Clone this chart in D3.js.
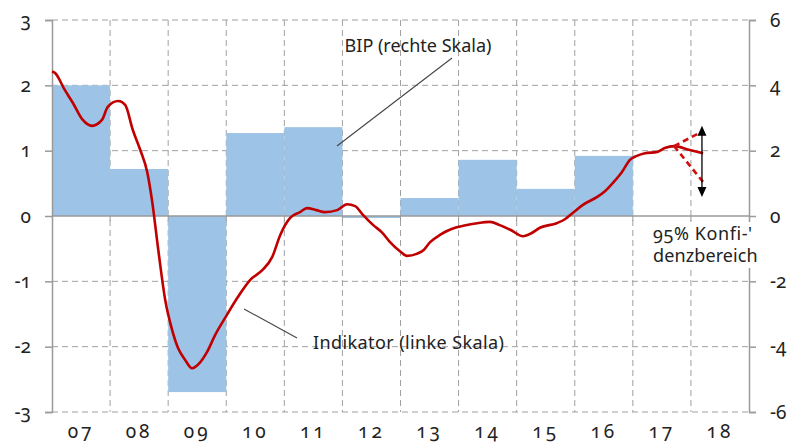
<!DOCTYPE html>
<html>
  <head>
    <meta charset="utf-8">
    <style type="text/css">
      body { margin: 0; background: #fff; }
      text { font-family: "Noto Sans", sans-serif; font-feature-settings: "onum"; fill: #222; }
    </style>
    <script src="https://d3js.org/d3.v7.min.js"></script>
  </head>
  <body>
    <svg width="792" height="446"></svg>
    <script>
      // GDP bars (right scale), one per calendar year
      const barYears = [2007, 2008, 2009, 2010, 2011, 2012, 2013, 2014, 2015, 2016];
      const barValues = [4.0, 1.44, -5.39, 2.54, 2.72, -0.06, 0.55, 1.72, 0.83, 1.84];

      // indicator (left scale): [decimal year, value]
      const indicator = [
        [2007.00, 2.21], [2007.05, 2.19], [2007.22, 1.93], [2007.36, 1.73], [2007.53, 1.47],
        [2007.69, 1.38], [2007.86, 1.47], [2007.96, 1.67], [2008.14, 1.76], [2008.26, 1.70],
        [2008.39, 1.32], [2008.52, 1.01], [2008.64, 0.67], [2008.72, 0.25], [2008.83, -0.52],
        [2008.95, -1.29], [2009.07, -1.75], [2009.17, -2.02], [2009.29, -2.20], [2009.41, -2.33],
        [2009.55, -2.24], [2009.67, -2.08], [2009.81, -1.82], [2009.98, -1.56], [2010.20, -1.24],
        [2010.41, -0.98], [2010.62, -0.83], [2010.79, -0.63], [2010.93, -0.29], [2011.10, -0.03],
        [2011.27, 0.06], [2011.39, 0.12], [2011.55, 0.09], [2011.70, 0.06], [2011.91, 0.09],
        [2012.08, 0.18], [2012.22, 0.15], [2012.35, 0.02], [2012.53, -0.14], [2012.68, -0.25],
        [2012.82, -0.40], [2012.99, -0.54], [2013.11, -0.61], [2013.28, -0.58], [2013.40, -0.52],
        [2013.51, -0.40], [2013.68, -0.29], [2013.80, -0.23], [2013.94, -0.18], [2014.08, -0.15],
        [2014.32, -0.11], [2014.54, -0.09], [2014.71, -0.14], [2014.89, -0.21], [2015.11, -0.31],
        [2015.26, -0.26], [2015.40, -0.18], [2015.69, -0.11], [2015.83, -0.05], [2015.97, 0.05],
        [2016.14, 0.17], [2016.38, 0.29], [2016.52, 0.38], [2016.66, 0.51], [2016.81, 0.67],
        [2016.95, 0.86], [2017.07, 0.92], [2017.21, 0.96], [2017.42, 0.98], [2017.55, 1.04],
        [2017.71, 1.07], [2017.98, 1.01], [2018.21, 0.96]
      ];
      const upperBand = [[2017.71, 1.07], [2018.21, 1.30]];
      const lowerBand = [[2017.71, 1.07], [2018.21, 0.52]];
      const confRange = [2018.19, 1.38, 0.29];

      const leftTicks = [3, 2, 1, 0, -1, -2, -3];
      const rightTicks = [6, 4, 2, 0, -2, -4, -6];
      const yearLabels = ['07', '08', '09', '10', '11', '12', '13', '14', '15', '16', '17', '18'];

      const svg = d3.select('svg');
      const x = d3.scaleLinear().domain([2007, 2019]).range([52, 749]);
      const yL = d3.scaleLinear().domain([-3, 3]).range([412, 20]);
      const yR = d3.scaleLinear().domain([-6, 6]).range([412, 20]);
      const gridColor = '#a0a0a0';

      // grid
      svg.append('g').selectAll('line').data(leftTicks.filter(d => d !== 0)).join('line')
        .attr('x1', x(2007)).attr('x2', x(2019))
        .attr('y1', d => yL(d)).attr('y2', d => yL(d))
        .attr('stroke', gridColor).attr('stroke-dasharray', '6,4');
      svg.append('g').selectAll('line').data(d3.range(2008, 2019)).join('line')
        .attr('x1', d => x(d)).attr('x2', d => x(d))
        .attr('y1', yL(3)).attr('y2', yL(-3))
        .attr('stroke', gridColor).attr('stroke-dasharray', '6,4');

      // bars
      svg.append('g').selectAll('rect').data(barYears).join('rect')
        .attr('x', d => x(d))
        .attr('width', d => x(d + 1) - x(d))
        .attr('y', (d, i) => Math.min(yR(barValues[i]), yR(0)))
        .attr('height', (d, i) => Math.abs(yR(barValues[i]) - yR(0)))
        .attr('fill', '#9dc3e6');

      // zero line with small ticks
      svg.append('line').attr('x1', x(2007)).attr('x2', x(2019))
        .attr('y1', yL(0)).attr('y2', yL(0)).attr('stroke', '#9a9a9a').attr('stroke-width', 1.5);
      svg.append('g').selectAll('line').data(d3.range(2008, 2019)).join('line')
        .attr('x1', d => x(d)).attr('x2', d => x(d))
        .attr('y1', yL(0)).attr('y2', yL(0) + 5).attr('stroke', '#9a9a9a');

      // axes
      const leftAxis = d3.axisLeft(yL).tickValues(leftTicks).tickSize(7).tickPadding(14)
        .tickFormat(d => String(d).replace('\u2212', '-'));
      const rightAxis = d3.axisRight(yR).tickValues(rightTicks).tickSize(7).tickPadding(14)
        .tickFormat(d => String(d).replace('\u2212', '-'));
      const gl = svg.append('g').attr('transform', `translate(${x(2007)},0)`).call(leftAxis);
      const gr = svg.append('g').attr('transform', `translate(${x(2019)},0)`).call(rightAxis);
      [gl, gr].forEach(g => {
        g.select('.domain').attr('stroke', '#9a9a9a').attr('stroke-width', 1.5);
        g.selectAll('.tick line').attr('stroke', '#9a9a9a').attr('stroke-width', 1.5);
        g.selectAll('.tick text').attr('font-size', 19).attr('fill', '#222')
          .style('font-family', '"Noto Sans", sans-serif');
      });
      gl.selectAll('.tick text').attr('text-anchor', 'end');

      // year labels
      svg.append('g').selectAll('text').data(yearLabels).join('text')
        .attr('x', (d, i) => x(2007.5 + i))
        .attr('y', 438)
        .attr('text-anchor', 'middle')
        .attr('font-size', 19)
        .attr('letter-spacing', 3)
        .text(d => d);

      // indicator line
      const line = d3.line().x(d => x(d[0])).y(d => yL(d[1])).curve(d3.curveMonotoneX);
      svg.append('path').datum(indicator).attr('d', line)
        .attr('fill', 'none').attr('stroke', '#c00000').attr('stroke-width', 2.6);
      [upperBand, lowerBand].forEach(b => {
        svg.append('path').datum(b).attr('d', line)
          .attr('fill', 'none').attr('stroke', '#d01010').attr('stroke-width', 2.6)
          .attr('stroke-dasharray', '6,4');
      });

      // confidence arrow
      const ax = x(confRange[0]);
      svg.append('line').attr('x1', ax).attr('x2', ax)
        .attr('y1', yL(confRange[1]) + 6).attr('y2', yL(confRange[2]) - 6)
        .attr('stroke', '#000').attr('stroke-width', 1.3);
      svg.append('path')
        .attr('d', `M${ax},${yL(confRange[1])} l-4.5,10 h9 Z M${ax},${yL(confRange[2])} l-4.5,-10 h9 Z`)
        .attr('fill', '#000');

      // annotations
      svg.append('text').attr('x', 418).attr('y', 52).attr('text-anchor', 'middle')
        .attr('font-size', 18).text('BIP (rechte Skala)');
      svg.append('line').attr('x1', 452).attr('y1', 58).attr('x2', 337).attr('y2', 146)
        .attr('stroke', '#444').attr('stroke-width', 1.1);
      svg.append('text').attr('x', 313).attr('y', 349)
        .attr('font-size', 18).attr('letter-spacing', 0.4).text('Indikator (linke Skala)');
      svg.append('line').attr('x1', 244).attr('y1', 309).attr('x2', 297).attr('y2', 338)
        .attr('stroke', '#444').attr('stroke-width', 1.1);
      svg.append('rect').attr('x', 650).attr('y', 222).attr('width', 110).attr('height', 46)
        .attr('fill', '#fff');
      svg.append('text').attr('x', 653).attr('y', 240)
        .attr('font-size', 18).attr('letter-spacing', 0.6).text("95% Konfi-'");
      svg.append('text').attr('x', 653).attr('y', 262)
        .attr('font-size', 18).attr('letter-spacing', 0.1).text('denzbereich');
    </script>
  </body>
</html>
